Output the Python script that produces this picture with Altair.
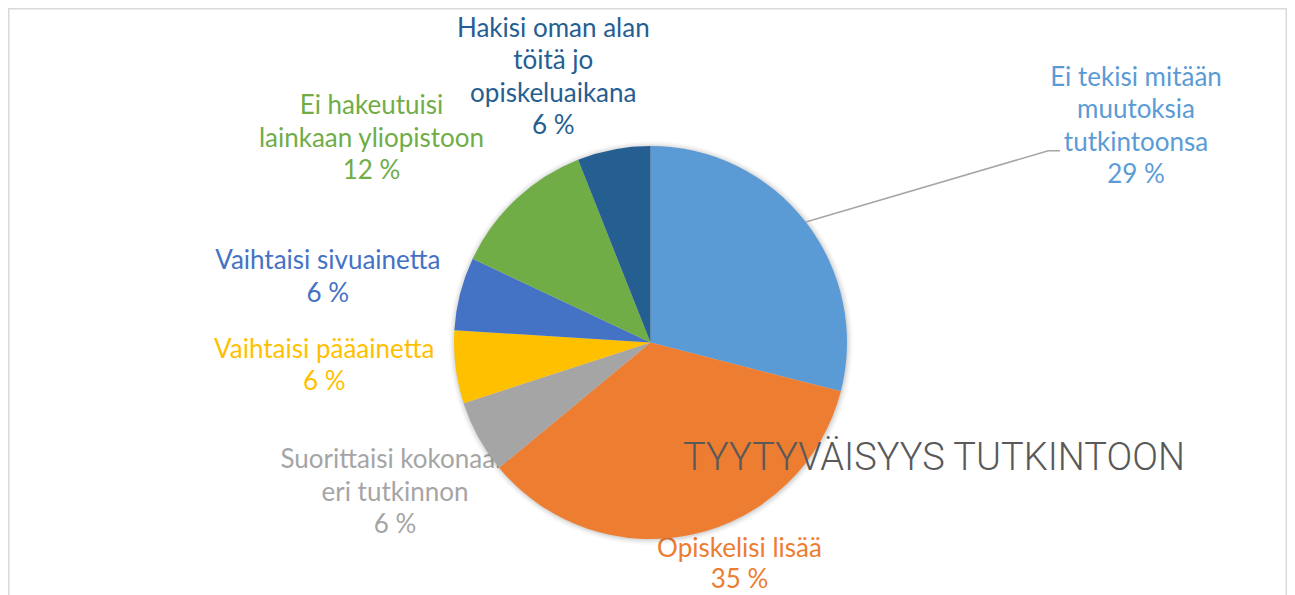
import math
import altair as alt
import pandas as pd

# ---- data ----
categories = [
    "Ei tekisi mitään muutoksia tutkintoonsa",
    "Opiskelisi lisää",
    "Suorittaisi kokonaan eri tutkinnon",
    "Vaihtaisi pääainetta",
    "Vaihtaisi sivuainetta",
    "Ei hakeutuisi lainkaan yliopistoon",
    "Hakisi oman alan töitä jo opiskeluaikana",
]
label_lines = [
    "Ei tekisi mitään\nmuutoksia\ntutkintoonsa",
    "Opiskelisi lisää",
    "Suorittaisi kokonaan\neri tutkinnon",
    "Vaihtaisi pääainetta",
    "Vaihtaisi sivuainetta",
    "Ei hakeutuisi\nlainkaan yliopistoon",
    "Hakisi oman alan\ntöitä jo\nopiskeluaikana",
]
percent = [29, 35, 6, 6, 6, 12, 6]
colors = ["#5B9BD5", "#ED7D31", "#A5A5A5", "#FFC000", "#4472C4", "#70AD47", "#255E91"]
title_text = "TYYTYVÄISYYS TUTKINTOON"

# ---- layout ----
W, H = 1279, 587
CX, CY, R = 642.5, 334.5, 196.5
LABEL_FONT = "Lato"
LABEL_SIZE = 26
LINE_H = 32.6
# (center x, first-line baseline y, line height)
label_anchor = [
    (1128, 77.7, LINE_H),
    (731.5, 548.5, 31.0),
    (387, 460.3, LINE_H),
    (316.2, 349.5, LINE_H),
    (319.8, 261.3, LINE_H),
    (363.5, 106, LINE_H),
    (545.3, 28.7, LINE_H),
]

df = pd.DataFrame({
    "idx": list(range(len(categories))),
    "cat": categories,
    "value": percent,
    "label": [f"{l}\n{p} %" for l, p in zip(label_lines, percent)],
})

color_scale = alt.Scale(domain=categories, range=colors)

border = alt.Chart(pd.DataFrame({"a": [0]})).mark_rect(
    fillOpacity=0, stroke="#D9D9D9", strokeWidth=1.5, clip=True
).encode(x=alt.value(0.75), x2=alt.value(W - 0.75), y=alt.value(0.75), y2=alt.value(H + 40))

labels = []
for i, (lx, ly, lh) in enumerate(label_anchor):
    labels.append(alt.Chart(df).transform_filter(alt.datum.idx == i).mark_text(
        align="center", baseline="alphabetic", lineBreak="\n", lineHeight=lh,
        font=LABEL_FONT, fontSize=LABEL_SIZE,
    ).encode(
        text="label:N",
        color=alt.Color("cat:N", scale=color_scale, legend=None),
        x=alt.value(lx), y=alt.value(ly),
    ))

shadows = []
for k, op in [(1.0, 0.06), (2.5, 0.045), (4.0, 0.03), (5.5, 0.02)]:
    shadows.append(
        alt.Chart(pd.DataFrame({"a": [0]})).mark_arc(
            radius=R + k, theta=0, theta2=2 * math.pi, color="black", opacity=op
        ).encode(x=alt.value(CX + 0.5), y=alt.value(CY + 0.5))
    )

pie = alt.Chart(df).mark_arc(radius=R).encode(
    theta=alt.Theta("value:Q", stack=True),
    order=alt.Order("idx:Q"),
    color=alt.Color("cat:N", scale=color_scale, legend=None),
    x=alt.value(CX), y=alt.value(CY),
)

# leader line for the first slice: starts at the slice's mid angle on the rim
total = sum(percent)
mid = (percent[0] / 2) / total * 2 * math.pi
sx, sy = CX + R * math.sin(mid), CY - R * math.cos(mid)
leader_df = pd.DataFrame({
    "step": [0, 1, 2],
    "px": [sx, 1040.3, 1052.0],
    "py": [sy, 142.7, 142.7],
})
leader = alt.Chart(leader_df).mark_line(color="#A6A6A6", strokeWidth=1.5).encode(
    x=alt.X("px:Q", scale=None, axis=None),
    y=alt.Y("py:Q", scale=None, axis=None),
    order="step:Q",
)

title = alt.Chart(pd.DataFrame({"t": [title_text]})).mark_text(
    align="left", baseline="alphabetic", font="Roboto", fontSize=38, fontWeight=300,
    color="#595959",
).encode(text="t:N", x=alt.value(675), y=alt.value(462))

chart = alt.layer(border, *labels, *shadows, pie, leader, title).properties(
    width=W, height=H, autosize=alt.AutoSizeParams(type="none"), padding=0,
    background="white",
).configure_view(stroke=None)

chart.save("out.html", embed_options={"renderer": "svg", "actions": False})
